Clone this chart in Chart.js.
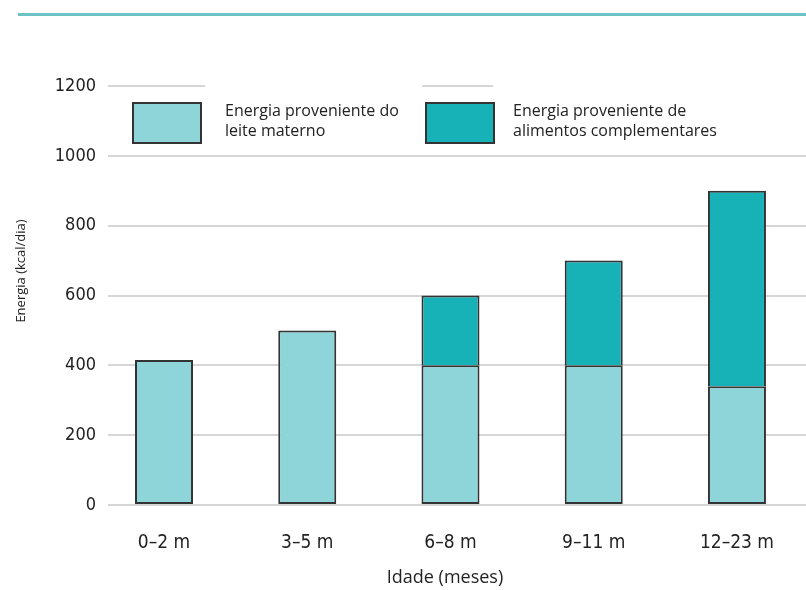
<!DOCTYPE html>
<html>
<head>
<meta charset="utf-8">
<script src="https://cdn.jsdelivr.net/npm/chart.js@4.4.1/dist/chart.umd.min.js"></script>
<style>
  html, body { margin: 0; padding: 0; background: #fff; }
  #wrap { position: relative; width: 806px; height: 590px; }
  #wrap canvas { position: absolute; left: 0; top: 0; }
  #topline { position: absolute; left: 18px; top: 13px; width: 788px; height: 3px; background: #6cc3c5; }
</style>
</head>
<body>
<div id="wrap">
  <canvas id="energy-chart" width="806" height="590"></canvas>
  <div id="topline"></div>
</div>
<script>
// data
const categories = ['0–2 m', '3–5 m', '6–8 m', '9–11 m', '12–23 m'];
const breastMilk = [415, 500, 400, 400, 340];
const complementary = [null, null, 200, 300, 560];
const yTicks = [0, 200, 400, 600, 800, 1000, 1200];
const seriesNames = [
  ['Energia proveniente do', 'leite materno'],
  ['Energia proveniente de', 'alimentos complementares']
];
const xTitle = 'Idade (meses)';
const yTitle = 'Energia (kcal/dia)';

const tickFont = "'Liberation Sans Narrow', 'DejaVu Sans Condensed', sans-serif";
const textFont = "'Open Sans', 'Noto Sans', sans-serif";

function toPoints(values){
    return values.map((v, i) => ({x: i, y: v})).filter(p => p.y !== null);
}

// legend + axis titles, drawn by hand so they sit where the original has them
const decor = {
    id: 'decor',
    afterDraw(chart){
        let ctx = chart.ctx;
        ctx.save();
        ctx.fillStyle = '#fff';
        ctx.fillRect(205, 78, 217, 72);
        ctx.fillRect(493, 78, 313, 72);

        let swatchX = [133, 426];
        let textX = [225, 513];
        chart.data.datasets.forEach((ds, i) => {
            ctx.fillStyle = ds.backgroundColor;
            ctx.fillRect(swatchX[i], 103, 68, 40);
            ctx.strokeStyle = ds.borderColor;
            ctx.lineWidth = 2;
            ctx.strokeRect(swatchX[i], 103, 68, 40);
            ctx.fillStyle = '#222';
            ctx.font = '16px ' + textFont;
            ctx.textAlign = 'left';
            ctx.textBaseline = 'alphabetic';
            seriesNames[i].forEach((line, j) => ctx.fillText(line, textX[i], 116 + j * 20));
        });

        ctx.fillStyle = '#222';
        ctx.textAlign = 'center';
        ctx.textBaseline = 'middle';
        ctx.font = '18px ' + textFont;
        ctx.fillText(xTitle, 445, 578);

        ctx.translate(21, 271);
        ctx.rotate(-Math.PI / 2);
        ctx.font = '13px ' + textFont;
        ctx.fillText(yTitle, 0, 0);
        ctx.restore();
    }
};

function initChart(){
    let ctx = document.getElementById('energy-chart').getContext('2d');

    let chart = new Chart(ctx, {
        type: 'bar',
        data: {
            datasets: [{
                label: seriesNames[0].join(' '),
                data: toPoints(breastMilk),
                backgroundColor: '#8dd5d8',
                borderColor: '#333',
                borderWidth: 2,
                borderSkipped: false
            }, {
                label: seriesNames[1].join(' '),
                data: toPoints(complementary),
                backgroundColor: '#17b1b8',
                borderColor: '#333',
                borderWidth: 2
            }]
        },
        options: {
            responsive: false,
            animation: false,
            devicePixelRatio: 1,
            categoryPercentage: 0.405,
            barPercentage: 1,
            layout: { padding: { top: 86, right: 0, bottom: 0, left: 0 } },
            plugins: {
                legend: { display: false },
                tooltip: { enabled: false }
            },
            scales: {
                x: {
                    type: 'linear',
                    min: -0.391,
                    max: 4.482,
                    offset: false,
                    stacked: true,
                    afterBuildTicks: (s) => { s.ticks = categories.map((c, i) => ({value: i})); },
                    afterFit: (s) => { s.height = 85; },
                    grid: { display: false },
                    border: { display: false },
                    ticks: {
                        callback: (v) => categories[v],
                        autoSkip: false,
                        maxRotation: 0,
                        padding: 19,
                        color: '#222',
                        font: { family: tickFont, size: 19 }
                    }
                },
                y: {
                    min: 0,
                    max: 1200,
                    stacked: true,
                    afterBuildTicks: (s) => { s.ticks = yTicks.map(v => ({value: v})); },
                    afterFit: (s) => { s.width = 108; },
                    grid: { color: '#d6d6d6', lineWidth: 2, drawTicks: false },
                    border: { display: false },
                    ticks: {
                        callback: (v) => String(v),
                        padding: 12,
                        color: '#222',
                        font: { family: tickFont, size: 18 }
                    }
                }
            }
        },
        plugins: [decor]
    });
}

initChart();
</script>
</body>
</html>
